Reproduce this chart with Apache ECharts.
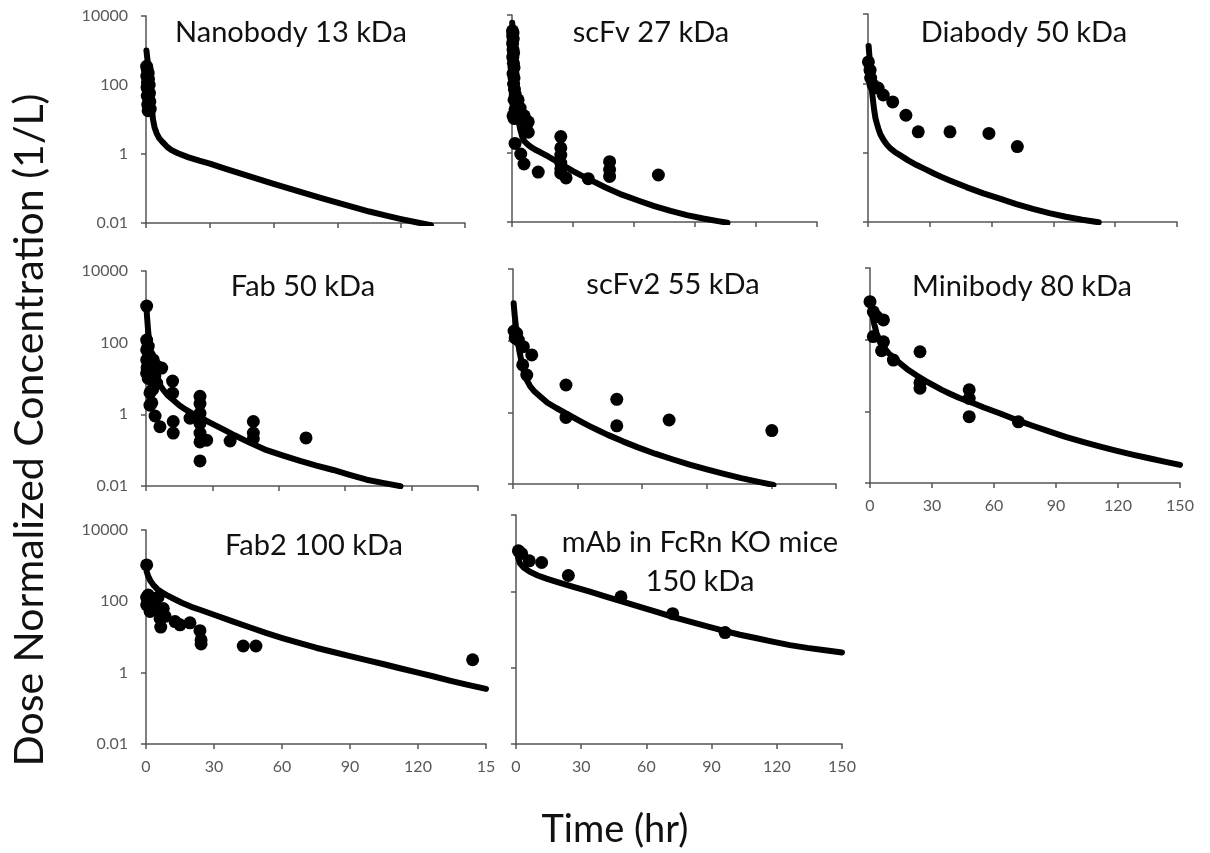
<!DOCTYPE html>
<html>
<head>
<meta charset="utf-8">
<script src="https://cdn.jsdelivr.net/npm/echarts@6/dist/echarts.min.js"></script>
<style>
html,body{margin:0;padding:0;background:#fff;}
#chart{width:1210px;height:853px;}
</style>
</head>
<body>
<div id="chart"></div>
<script>
// ---------------- data ----------------
const panelTitles = ['Nanobody 13 kDa', 'scFv 27 kDa', 'Diabody 50 kDa', 'Fab 50 kDa', 'scFv2 55 kDa', 'Minibody 80 kDa', 'Fab2 100 kDa', 'mAb in FcRn KO mice\n150 kDa'];
const xTickLabels = ['0', '30', '60', '90', '120', '150'];
const xTickLabelsClipped = ['0', '30', '60', '90', '120', '15'];
const yTickValues = [0.01, 1, 100, 10000];
const yTickLabels = ['0.01', '1', '100', '10000'];
const yAxisTitle = 'Dose Normalized Concentration (1/L)';
const xAxisTitle = 'Time (hr)';

// model curves [time hr, concentration 1/L]
const nanobodyCurve = [[0.2,1000],[0.6,600],[1,350],[1.5,150],[2,70],[2.5,30],[3.3,10],[4,6],[5,4],[6,3],[7,2.5],[8.5,2],[10,1.6],[12,1.3],[15,1.05],[20,0.8],[25,0.64],[30,0.525],[37.5,0.37],[45,0.265],[52.5,0.19],[60,0.136],[67.5,0.099],[75,0.072],[82.5,0.053],[90,0.039],[97.5,0.029],[105,0.0215],[112.5,0.0167],[120,0.013],[127,0.0105],[134,0.0086]];
const scfvCurve = [[0.1,6000],[0.4,2500],[0.8,800],[1.2,250],[1.6,90],[2,40],[2.5,18],[3,10],[4,5],[5,3],[6,2.2],[8,1.7],[10,1.4],[12,1.2],[14,1.05],[18,0.78],[22,0.57],[26,0.41],[30,0.3],[34,0.225],[38,0.172],[46,0.1],[54,0.062],[62,0.042],[70,0.029],[78,0.021],[86,0.0158],[94,0.0126],[102,0.0104],[106,0.0095]];
const diabodyCurve = [[0.3,1200],[0.7,600],[1.2,200],[1.8,70],[2.4,33],[3,17],[3.6,10],[4.2,7.3],[5,5],[6,3.4],[7.4,2.4],[9,1.75],[11,1.3],[13,1.05],[15.5,0.85],[19.5,0.6],[23.6,0.44],[28,0.33],[32,0.25],[36,0.195],[40,0.155],[48,0.1],[56,0.067],[64,0.047],[72,0.033],[80,0.024],[88,0.018],[96,0.0142],[104,0.0116],[112,0.0098]];
const fabCurve = [[0.2,1000],[0.5,500],[1,200],[1.5,100],[2,60],[3,28],[4,15],[5,10],[6,7],[7.8,4.8],[10,3.3],[12.3,2.5],[15,1.8],[18,1.35],[21,1.05],[24.4,0.83],[28,0.63],[32,0.47],[36,0.35],[40,0.26],[47,0.16],[54.5,0.1],[62,0.07],[69.6,0.05],[77,0.037],[84.6,0.028],[92,0.0205],[99.7,0.015],[107,0.0122],[115,0.0099]];
const scfv2Curve = [[0.3,1100],[0.8,500],[1.5,200],[2.2,100],[3,50],[4,25],[5,14],[6.4,8],[8,5.3],[10,3.8],[12.5,2.8],[16,1.85],[20.3,1.3],[24,0.98],[28,0.72],[32,0.535],[36,0.4],[40,0.305],[44,0.235],[51,0.155],[58,0.105],[66,0.07],[74,0.049],[82,0.0348],[90,0.0255],[98,0.0191],[106,0.0146],[114,0.0115],[121,0.0094]];
const minibodyCurve = [[0.3,930],[1,550],[2,280],[3.2,150],[4.5,100],[6.5,63],[9,42],[11.5,31],[14.5,22],[18,15],[22.6,10],[27,7],[31,5.2],[35,3.9],[38.7,3.1],[43,2.4],[47,1.95],[51,1.6],[54.8,1.3],[63,0.87],[71,0.57],[79,0.39],[87,0.27],[95,0.19],[103,0.14],[111,0.105],[119,0.08],[127,0.062],[135,0.049],[143,0.039],[150,0.032]];
const fab2Curve = [[0.3,680],[1,500],[2,370],[3.2,290],[5,220],[7,180],[9.1,150],[12,120],[16,90],[20,70],[23.8,58],[30,42],[38.5,27],[46,18.5],[53.2,12.8],[60.5,9.2],[67.9,6.7],[75,5],[82.6,3.8],[90,2.9],[97.3,2.25],[105,1.72],[112,1.33],[120,1.0],[127,0.78],[134,0.6],[141.5,0.46],[150,0.35]];
const mabCurve = [[0.3,1200],[1,750],[1.8,540],[3.5,420],[6.4,325],[10,260],[14,215],[18.7,177],[26,132],[34,98],[41.7,72],[49.4,53],[57,39],[64.7,29],[72,21.5],[80,16],[88,12.1],[95.4,9.3],[103,7.3],[110.8,5.9],[118,4.8],[126,3.9],[134,3.3],[141.4,2.9],[150,2.5]];

// observed data [time hr, concentration 1/L]
const nanobodyObs = [[0.3,350],[0.6,280],[1,220],[0.4,180],[1.2,150],[0.7,120],[1.5,100],[0.5,85],[1,70],[1.6,58],[0.6,48],[1.2,40],[1.8,33],[0.8,27],[1.4,23],[2,20],[1,18]];
const scfvObs = [[0.25,3500],[0.5,3000],[0.3,2500],[0.6,2000],[0.3,1500],[0.5,1000],[0.8,800],[0.4,600],[0.7,400],[1,300],[0.5,200],[1,150],[0.8,100],[1.2,70],[1.6,50],[1,35],[2,25],[1.5,18],[0.5,12],[1,10],[2.5,10],[3,35],[4,20],[4,15],[6,12],[8,8],[7,5],[8,4],[1.5,1.9],[4.3,0.93],[5.9,0.48],[12.9,0.28],[24,3.0],[24,1.4],[24,0.87],[24,0.51],[24,0.35],[24,0.26],[26.6,0.19],[37.5,0.18],[48,0.56],[48,0.33],[48,0.21],[72,0.23]];
const diabodyObs = [[0.2,415],[1,240],[1.3,142],[2.5,89],[4.9,73],[7.4,46],[12,29],[18.4,12],[24.4,4],[39.8,4],[58.7,3.6],[72.5,1.5]];
const fabObs = [[0.3,1050],[0.3,118],[1,80],[0.3,63],[1.5,45],[0.3,33],[0.5,20],[0.3,14],[1,10],[3.3,33],[2,25],[5,22],[7.1,19.5],[4,12],[4.8,7.4],[1.8,4],[3,5],[2.6,2.1],[1.8,1.8],[4.1,0.9],[6.3,0.45],[12,8.5],[12,3.9],[12.3,0.63],[12.3,0.3],[19.9,0.78],[24.4,3.2],[24.4,2],[24.4,1.07],[24.4,0.56],[24.4,0.3],[24.4,0.17],[24.4,0.05],[27.4,0.19],[38,0.18],[48.5,0.63],[48.5,0.3],[48.5,0.21],[72.3,0.22]];
const scfv2Obs = [[0.5,186],[1.7,160],[1,120],[2.5,104],[4.8,68],[4.5,21],[6.4,11],[8.7,40],[24.6,5.8],[24.6,0.72],[48.2,2.3],[48.2,0.42],[72.5,0.61],[120.2,0.31]];
const minibodyObs = [[0,1150],[1.6,600],[3.2,440],[6.5,355],[1.6,122],[6.5,87],[5.6,49],[11.3,27],[24.2,46],[24.2,6.3],[24.2,4.4],[48,4],[48,2.3],[48,0.71],[71.8,0.51]];
const fab2Obs = [[0.3,1050],[1,150],[0.3,130],[2.5,100],[0.3,80],[1.8,52],[5.3,130],[4,71],[3,60],[7.6,63],[6.2,33],[6.5,19],[8.4,38],[12.8,27],[15,22],[19.4,25],[23.8,15],[24.3,8.3],[24.3,6.4],[42.9,5.6],[48.5,5.6],[144.1,2.3]];
const mabObs = [[1.1,1150],[2.6,980],[6.1,630],[11.8,570],[24.1,260],[48.3,72],[72.1,26],[96.2,8.3]];

const curves = [nanobodyCurve, scfvCurve, diabodyCurve, fabCurve, scfv2Curve, minibodyCurve, fab2Curve, mabCurve];
const observations = [nanobodyObs, scfvObs, diabodyObs, fabObs, scfv2Obs, minibodyObs, fab2Obs, mabObs];

// ---------------- layout ----------------
const grids = [
  {left:146, top:16,  width:319, height:207},
  {left:512, top:15,  width:305, height:207},
  {left:868, top:14,  width:309, height:208},
  {left:146, top:271, width:332, height:215},
  {left:513, top:269, width:323, height:215},
  {left:870, top:268, width:310, height:215},
  {left:146, top:530, width:340, height:214},
  {left:516, top:515, width:326, height:229}
];
const titlePos = [[291,33],[651,33],[1024,33],[303,287],[673,285],[1022,287],[314,546],[700,562]];
const showYLabels = [true,false,false,true,false,false,true,false];
const showXLabels = [false,false,false,false,false,true,true,true];

const axisColor = '#555555';
const labelColor = '#595959';
const FONT = 'Lato, "Open Sans", sans-serif';

const xAxes = [], yAxes = [], series = [], graphics = [];
grids.forEach((g, i) => {
  const xl = i === 6 ? xTickLabelsClipped : xTickLabels;
  xAxes.push({
    gridIndex: i, type: 'value', min: 0, max: 150, interval: 30,
    axisLine: {show: true, onZero: false, lineStyle: {color: axisColor, width: 1.5}},
    axisTick: {show: true, length: 5, lineStyle: {color: axisColor, width: 1.5}},
    splitLine: {show: false},
    axisLabel: {show: showXLabels[i], color: labelColor, fontSize: 16, fontFamily: FONT, margin: 15,
      formatter: v => xl[Math.round(v / 30)]}
  });
  yAxes.push({
    gridIndex: i, type: 'log', logBase: 10, min: 0.01, max: 10000, interval: 2, splitNumber: 3,
    axisLine: {show: true, lineStyle: {color: axisColor, width: 1.5}},
    axisTick: {show: true, length: 5, lineStyle: {color: axisColor, width: 1.5}},
    splitLine: {show: false},
    axisLabel: {show: showYLabels[i], color: labelColor, fontSize: 16, fontFamily: FONT, margin: 18,
      formatter: v => {
        let best = 0, bd = Infinity;
        yTickValues.forEach((t, k) => { const d = Math.abs(Math.log10(t) - Math.log10(v)); if (d < bd) { bd = d; best = k; } });
        return yTickLabels[best];
      }}
  });
  series.push({
    type: 'line', xAxisIndex: i, yAxisIndex: i, data: curves[i], showSymbol: false,
    smooth: false, clip: true, silent: true, z: 2,
    lineStyle: {color: '#000', width: 6, cap: 'round', join: 'round'}
  });
  series.push({
    type: 'scatter', xAxisIndex: i, yAxisIndex: i, data: observations[i],
    symbol: 'circle', symbolSize: 13, itemStyle: {color: '#000', opacity: 1}, z: 3, clip: false
  });
  graphics.push({
    type: 'text', x: titlePos[i][0], y: titlePos[i][1], z: 10,
    style: {text: panelTitles[i], fill: '#111', font: '29px ' + FONT, textAlign: 'center', textVerticalAlign: 'middle', lineHeight: 39}
  });
});
graphics.push({
  type: 'text', x: 30, y: 430, rotation: Math.PI / 2,
  style: {text: yAxisTitle, fill: '#111', font: '41px ' + FONT, textAlign: 'center', textVerticalAlign: 'middle'}
});
graphics.push({
  type: 'text', x: 615, y: 830,
  style: {text: xAxisTitle, fill: '#111', font: '38px ' + FONT, textAlign: 'center', textVerticalAlign: 'middle'}
});

const chart = echarts.init(document.getElementById('chart'), null, {renderer: 'canvas'});
chart.setOption({
  animation: false,
  backgroundColor: '#fff',
  grid: grids,
  xAxis: xAxes,
  yAxis: yAxes,
  series: series,
  graphic: graphics
});
</script>
</body>
</html>
